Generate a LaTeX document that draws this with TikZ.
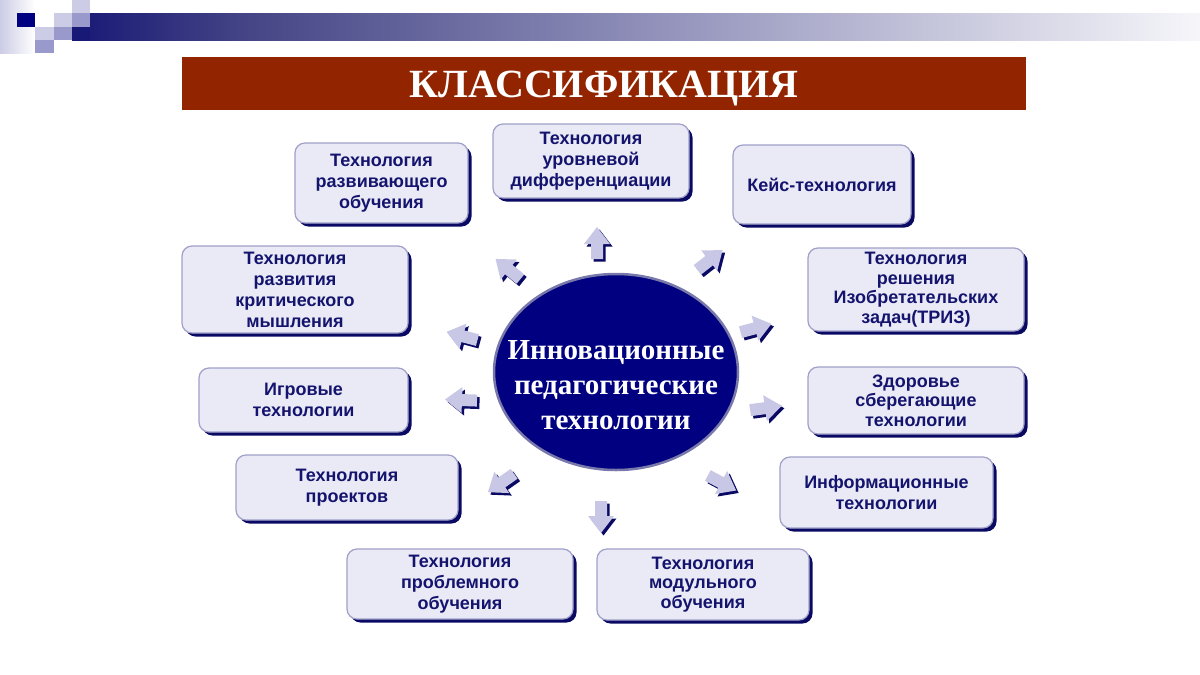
\documentclass[tikz,border=0pt]{standalone}
\usepackage{fontspec}
\setmainfont{Liberation Serif}
\newfontfamily\arialf{Liberation Sans}
\usetikzlibrary{shapes.geometric,shadows}
\definecolor{navyA}{RGB}{0,0,128}
\definecolor{barL}{RGB}{24,24,118}
\definecolor{barM}{RGB}{70,70,135}
\definecolor{barN}{RGB}{150,150,190}
\definecolor{barR}{RGB}{246,246,250}
\definecolor{lav}{RGB}{204,204,230}
\definecolor{lavM}{RGB}{153,153,204}
\definecolor{titleRed}{RGB}{146,36,0}
\definecolor{boxFill}{RGB}{234,234,246}
\definecolor{boxLine}{RGB}{160,160,200}
\definecolor{shadowC}{RGB}{10,10,100}
\definecolor{txtC}{RGB}{20,20,110}
\definecolor{arrFill}{RGB}{200,200,230}
\definecolor{ringC}{RGB}{120,120,170}
\pgfdeclarehorizontalshading{barshade}{100bp}{color(0bp)=(barL); color(25bp)=(barL); color(33bp)=(barM); color(52bp)=(barN); color(75bp)=(barR); color(100bp)=(barR)}
\tikzset{
  tbox/.style={rectangle, rounded corners=10pt, draw=boxLine, line width=1.2pt, fill=boxFill,
    general shadow={fill=shadowC, shadow xshift=3.5pt, shadow yshift=-3.5pt},
    align=center, text=txtC, font=\arialf\bfseries\fontsize{18}{21}\selectfont, inner sep=2pt},
  tboxtight/.style={tbox, font=\arialf\bfseries\fontsize{18}{19.5}\selectfont},
  centre/.style={ellipse, fill=navyA, draw=ringC, line width=2.5pt, inner sep=0pt},
  centretext/.style={align=center, text=white, font=\bfseries\fontsize{29}{35}\selectfont, inner sep=0pt}
}
\newcommand{\arrshape}{(-16,-6) -- (-1,-6) -- (-1,-13) -- (16,0) -- (-1,13) -- (-1,6) -- (-16,6) -- cycle}
\begin{document}
\begin{tikzpicture}[x=1pt,y=-1pt]
\useasboundingbox (0,0) rectangle (1200,675);
\fill[white] (0,0) rectangle (1200,675);
% top-left decoration
\shade[left color=lav, right color=white] (0,0) rectangle (35,53);
\shade[shading=barshade] (72,13) rectangle (1200,40);
\fill[navyA] (17,13) rectangle (35,27);
\fill[lav] (72,0) rectangle (90,13);
\fill[lav] (54,13) rectangle (72,27);
\fill[lavM] (72,13) rectangle (90,27);
\fill[lav] (35,27) rectangle (54,40);
\fill[lavM] (54,27) rectangle (72,40);
\fill[barL] (72,27) rectangle (90,40);
\fill[lavM] (35,40) rectangle (54,53);
% title
\node[fill=titleRed, minimum width=844pt, minimum height=53pt, inner sep=0pt] (title) at (604,83.5) {};
\node[text=white, font=\bfseries\fontsize{40}{44}\selectfont, text depth=0pt, inner sep=0pt] (titletext) at (604,84) {КЛАССИФИКАЦИЯ};
% centre
\node[centre, minimum width=244pt, minimum height=196pt] (c) at (616,372) {};
\node[centretext] (ct) at (616,385) {Инновационные\\педагогические\\технологии};
% boxes
\node[tbox, minimum width=173pt, minimum height=80pt] (b1) at (381.5,183) {Технология\\развивающего\\обучения};
\node[tbox, minimum width=196pt, minimum height=74pt] (b2) at (591,161) {Технология\\уровневой\\дифференциации};
\node[tbox, minimum width=178pt, minimum height=79pt] (b3) at (822,184.5) {Кейс-технология};
\node[tbox, minimum width=226pt, minimum height=87pt] (b4) at (295,289.5) {Технология\\развития\\критического\\мышления};
\node[tboxtight, minimum width=216pt, minimum height=83pt] (b5) at (916,289.5) {Технология\\решения\\Изобретательских\\задач(ТРИЗ)};
\node[tbox, minimum width=209pt, minimum height=64pt] (b6) at (303.5,400) {Игровые\\технологии};
\node[tboxtight, minimum width=216pt, minimum height=67pt] (b7) at (916,400.5) {Здоровье\\сберегающие\\технологии};
\node[tbox, minimum width=222pt, minimum height=65pt] (b8) at (347,487.5) {Технология\\проектов};
\node[tbox, minimum width=213pt, minimum height=71pt] (b9) at (886.5,492.5) {Информационные\\технологии};
\node[tbox, minimum width=226pt, minimum height=70pt] (b10) at (460,584) {Технология\\проблемного\\обучения};
\node[tboxtight, minimum width=212pt, minimum height=71pt] (b11) at (703,584.5) {Технология\\модульного\\обучения};
% arrows
\foreach \px/\py/\ang in {597/243/90, 508/269/141, 710/260/38, 462/336/165, 461/400/178,
                          756/328/15, 766/408/8, 501/483/215, 601/517/270, 722/483/-28}{
  \begin{scope}[shift={(\px+2.5,\py+2.5)}, rotate=\ang]
    \fill[shadowC] \arrshape;
  \end{scope}
  \begin{scope}[shift={(\px,\py)}, rotate=\ang]
    \fill[arrFill] \arrshape;
  \end{scope}
}
\end{tikzpicture}
\end{document}
